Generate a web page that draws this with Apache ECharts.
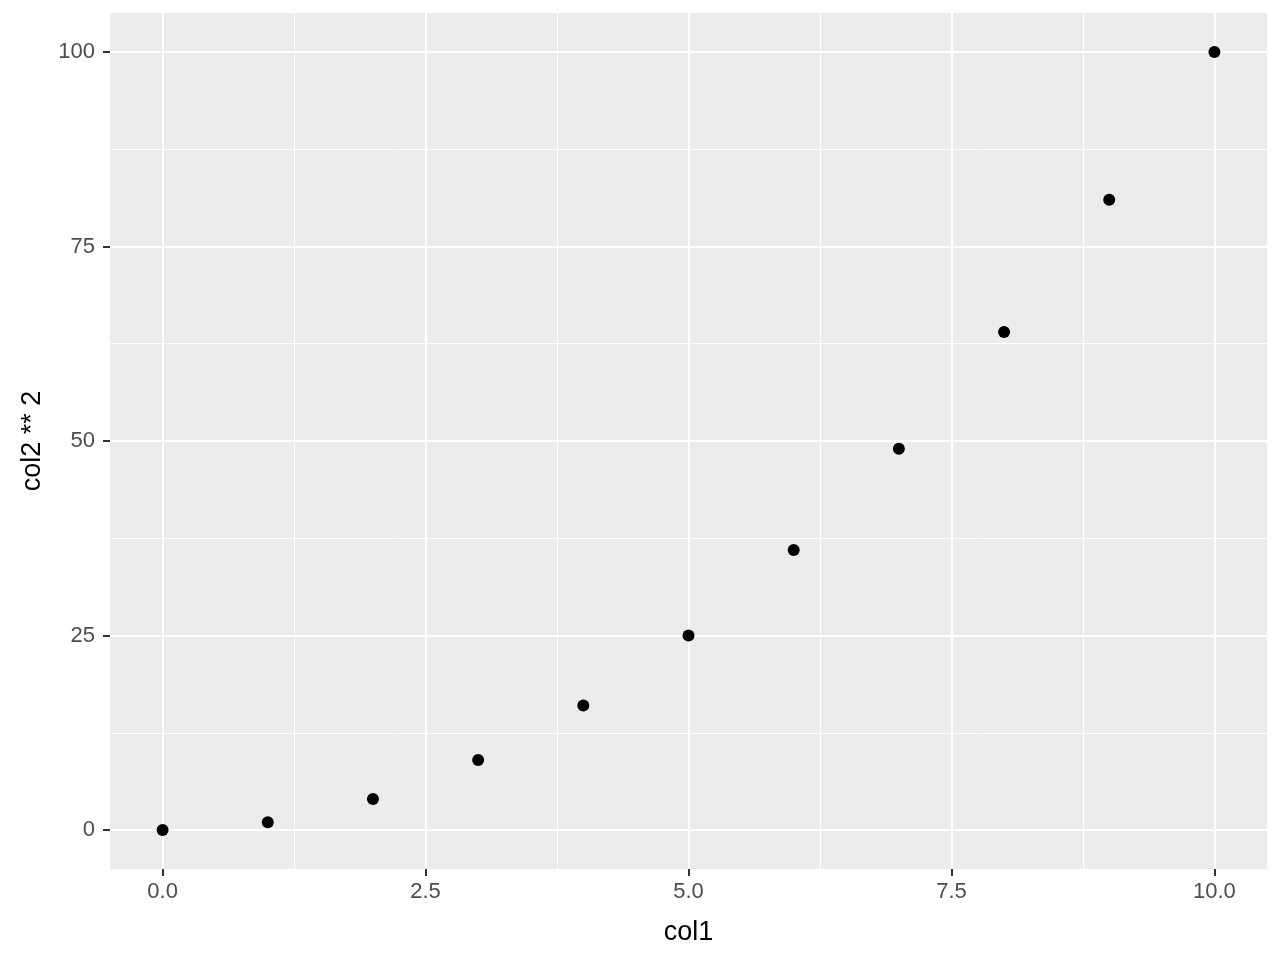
<!DOCTYPE html>
<html>
<head>
<meta charset="utf-8">
<script src="https://cdn.jsdelivr.net/npm/echarts@6/dist/echarts.min.js"></script>
<style>
html,body{margin:0;padding:0;background:#fff;}
#chart{width:1280px;height:960px;}
</style>
</head>
<body>
<div id="chart"></div>
<script>
const col1 = [0, 1, 2, 3, 4, 5, 6, 7, 8, 9, 10];
const col2Sq = [0, 1, 4, 9, 16, 25, 36, 49, 64, 81, 100];
const xTicks = [0, 2.5, 5, 7.5, 10];
const xMinor = [1.25, 3.75, 6.25, 8.75];
const yTicks = [0, 25, 50, 75, 100];
const yMinor = [12.5, 37.5, 62.5, 87.5];
const xTitle = 'col1';
const yTitle = 'col2 ** 2';

const FONT = '"Liberation Sans", Arial, Helvetica, sans-serif';
const chart = echarts.init(document.getElementById('chart'), null, {renderer: 'canvas'});

function majorAxis(ticks, min, max, name, fmt, nameGap, labelMargin, position) {
  return {
    type: 'value', min: min, max: max, position: position,
    name: name, nameLocation: 'middle', nameGap: nameGap,
    nameTextStyle: {color: '#000', fontSize: 27, fontFamily: FONT},
    axisLine: {show: false, onZero: false},
    axisTick: {show: true, length: 7, customValues: ticks, lineStyle: {color: '#333333', width: 2}},
    axisLabel: {show: true, customValues: ticks, color: '#4D4D4D', fontSize: 22, fontFamily: FONT, margin: labelMargin, formatter: fmt},
    splitLine: {show: true, lineStyle: {color: '#FFFFFF', width: 2}}
  };
}
function minorAxis(ticks, min, max, position) {
  return {
    type: 'value', min: min, max: max, position: position,
    axisLine: {show: false, onZero: false},
    axisTick: {show: false, customValues: ticks},
    axisLabel: {show: false, customValues: ticks},
    splitLine: {show: true, lineStyle: {color: '#FFFFFF', width: 1}}
  };
}

chart.setOption({
  animation: false,
  backgroundColor: '#FFFFFF',
  grid: {left: 110, right: 13, top: 13, bottom: 91, show: true, backgroundColor: '#EBEBEB', borderWidth: 0, containLabel: false},
  xAxis: [
    minorAxis(xMinor, -0.5, 10.5, 'top'),
    majorAxis(xTicks, -0.5, 10.5, xTitle, v => v.toFixed(1), 50, 12, 'bottom')
  ],
  yAxis: [
    minorAxis(yMinor, -5, 105, 'right'),
    majorAxis(yTicks, -5, 105, yTitle, v => String(v), 64, 15, 'left')
  ],
  series: [{
    type: 'scatter',
    xAxisIndex: 1, yAxisIndex: 1,
    data: col1.map((x, i) => [x, col2Sq[i]]),
    symbol: 'circle', symbolSize: 12,
    itemStyle: {color: '#000000', opacity: 1},
    emphasis: {disabled: true},
    z: 10
  }]
});
</script>
</body>
</html>
